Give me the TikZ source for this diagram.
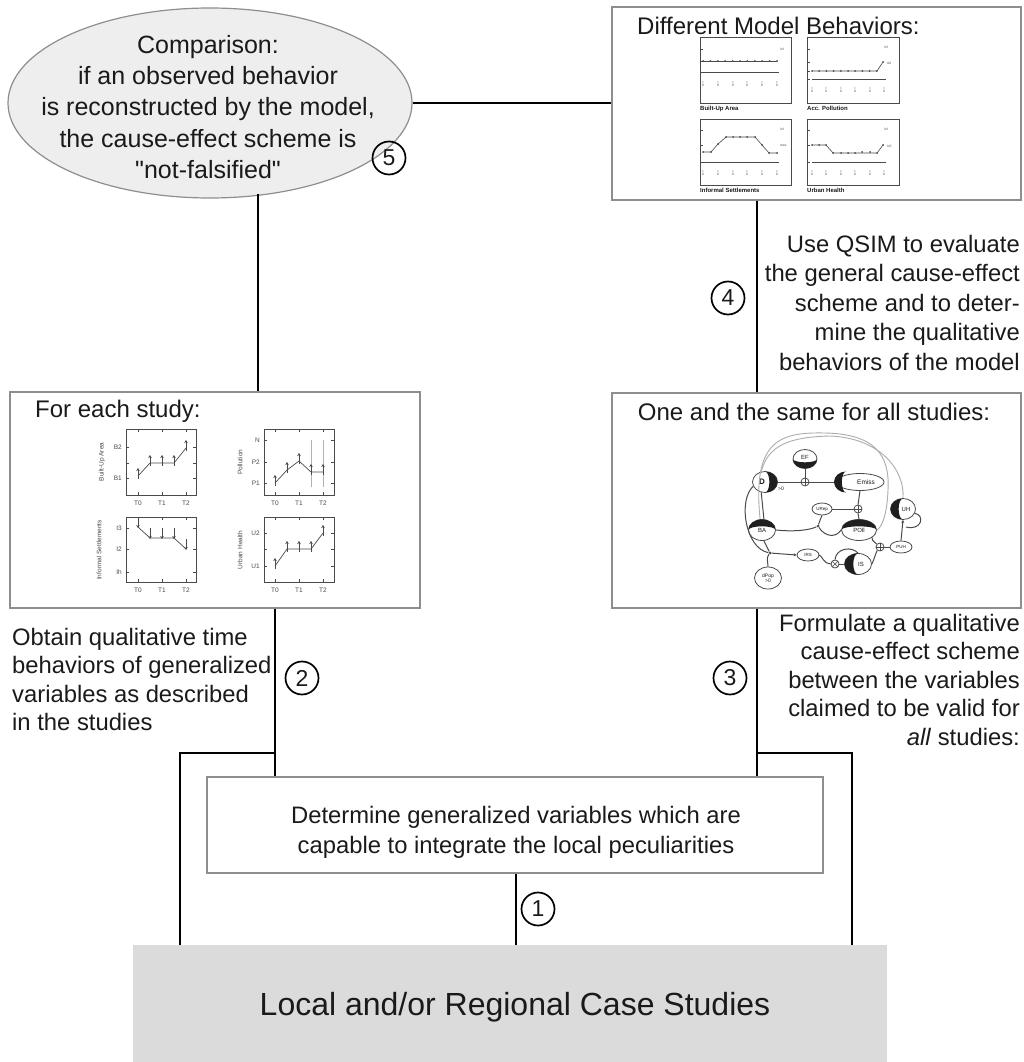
\documentclass[tikz,border=0pt]{standalone}
\usepackage{fontspec}
\setmainfont{Liberation Sans}
\newfontfamily\qfont{Liberation Sans}[Ligatures=TeXOff]
\usetikzlibrary{shapes.geometric,arrows.meta}
\definecolor{boxline}{HTML}{8E8E8E}
\definecolor{ellfill}{HTML}{EEEEEE}
\definecolor{casefill}{HTML}{DBDBDB}
\definecolor{inkgray}{HTML}{4A4A4A}
\definecolor{txtblack}{HTML}{1A1A1A}
\newcommand{\fsz}[2]{\fontsize{#1}{#2}\selectfont}
\newcommand{\cresbot}[3]{\fill[moonfill] (#1) ++(-#2,0) arc[start angle=180,end angle=360,x radius=#2pt,y radius=#3pt] arc[start angle=0,end angle=-180,x radius=#2pt,y radius=0.35*#3pt] -- cycle;}
\newcommand{\crestop}[3]{\fill[moonfill] (#1) ++(-#2,0) arc[start angle=180,end angle=0,x radius=#2pt,y radius=#3pt] arc[start angle=0,end angle=180,x radius=#2pt,y radius=0.35*#3pt] -- cycle;}
\newcommand{\cresright}[3]{\fill[moonfill] (#1) ++(0,-#3) arc[start angle=90,end angle=-90,x radius=#2pt,y radius=#3pt] arc[start angle=-90,end angle=90,x radius=0.35*#2pt,y radius=#3pt] -- cycle;}
\newcommand{\cresleft}[3]{\fill[moonfill] (#1) ++(0,-#3) arc[start angle=90,end angle=270,x radius=#2pt,y radius=#3pt] arc[start angle=270,end angle=90,x radius=0.35*#2pt,y radius=#3pt] -- cycle;}
\begin{document}
\begin{tikzpicture}[x=1pt,y=-1pt,text=txtblack,
  conn/.style={line width=2.3pt,black,line join=miter},
  panel/.style={draw=boxline,line width=1.4pt,fill=white,inner sep=0pt},
  stepnum/.style={circle,draw=black,line width=1.7pt,minimum size=33pt,inner sep=0pt,font=\fsz{23}{26}},
  plt/.style={draw=inkgray,line width=0.7pt},
  upmk/.style={draw=inkgray,line width=0.6pt,-{Stealth[length=3pt,width=3.5pt]}},
  tinylab/.style={font=\fsz{6.5}{7},text=inkgray,inner sep=0pt},
  qfr/.style={draw=inkgray,line width=1pt},
  qln/.style={draw=inkgray,line width=0.6pt},
  qtk/.style={font=\fsz{3.3}{3.6},text=inkgray,inner sep=0pt,align=center},
  qlab/.style={font=\bfseries\fsz{6}{6},inner sep=0pt,anchor=north west},
  cv/.style={ellipse,draw=inkgray,line width=0.8pt,fill=white,inner sep=0pt,font=\fsz{6}{6}},
  jn/.style={circle,draw=inkgray,line width=0.8pt,fill=white,minimum size=8pt,inner sep=0pt},
  cl/.style={draw=inkgray,line width=1pt},
  arcl/.style={draw=gray!65,line width=0.9pt},
  moonfill/.style={fill=black!88}]
\useasboundingbox (0,0) rectangle (1023,1062);

% ---------- main panels ----------
\node[ellipse,draw=boxline,line width=1.2pt,fill=ellfill,minimum width=404pt,minimum height=190pt,inner sep=0pt] (ell) at (210,103) {};
\node[font=\fsz{25}{31.3},align=center,anchor=north,inner sep=0pt] (elltxt) at (208,35)
  {Comparison:\\if an observed behavior\\is reconstructed by the model,\\the cause-effect scheme is\\{\qfont"}not-falsified{\qfont"}};

\node[panel,minimum width=409pt,minimum height=193pt] (tbox) at (816.5,103.5) {};
\node[anchor=west,inner sep=0pt,font=\fsz{24}{28}] (ttitle) at (637,26) {Different Model Behaviors:};

\node[panel,minimum width=410pt,minimum height=216pt] (lbox) at (215,500) {};
\node[anchor=west,inner sep=0pt,font=\fsz{24}{28}] (ltitle) at (35,411) {For each study:};

\node[panel,minimum width=409pt,minimum height=215pt] (rbox) at (816.5,500.5) {};
\node[inner sep=0pt,font=\fsz{24}{28}] (rtitle) at (814,412) {One and the same for all studies:};

\node[panel,minimum width=616pt,minimum height=96pt] (dbox) at (515,825) {};
\node[align=center,font=\fsz{23.8}{30},inner sep=0pt] (dtxt) at (516,832)
  {Determine generalized variables which are\\capable to integrate the local peculiarities};

\node[fill=casefill,minimum width=754pt,minimum height=117pt,inner sep=0pt] (gbox) at (510,1003.5) {};
\node[font=\fsz{32}{36},inner sep=0pt] (gtxt) at (515,1007) {Local and/or Regional Case Studies};

% ---------- side texts ----------
\node[anchor=north west,align=left,inner sep=0pt,font=\fsz{23.8}{28.5}] (txt2) at (12,628)
  {Obtain qualitative time\\behaviors of generalized\\variables as described\\in the studies};
\node[anchor=north east,align=right,inner sep=0pt,font=\fsz{23.8}{28.4}] (txt3) at (1020,614)
  {Formulate a qualitative\\cause-effect scheme\\between the variables\\claimed to be valid for\\\emph{all} studies:};
\node[anchor=north east,align=right,inner sep=0pt,font=\fsz{23.8}{29.4}] (txt4) at (1020,235)
  {Use QSIM to evaluate\\the general cause-effect\\scheme and to deter-\\mine the qualitative\\behaviors of the model};

% ---------- step numbers ----------
\node[stepnum] (s1) at (538,909) {1};
\node[stepnum] (s2) at (302,678) {2};
\node[stepnum] (s3) at (730,678) {3};
\node[stepnum] (s4) at (728,298) {4};
\node[stepnum] (s5) at (389,158) {5};

% ---------- connectors ----------
\coordinate (xa) at (258,0);
\coordinate (xl) at (275,0);
\coordinate (xr) at (757,0);
\coordinate (xo1) at (180,0);
\coordinate (xo2) at (852,0);
\coordinate (xm) at (516,0);
\coordinate (yb) at (0,753);
\draw[conn] (ell.east) -- (ell.east -| tbox.west);
\draw[conn] (ell.south -| xa) ++(0,-5) -- (lbox.north -| xa);
\draw[conn] (tbox.south -| xr) -- (rbox.north -| xr);
\draw[conn] (lbox.south -| xl) -- (dbox.north -| xl);
\draw[conn] (rbox.south -| xr) -- (dbox.north -| xr);
\draw[conn] (xl |- yb) -- (xo1 |- yb) -- (gbox.north -| xo1);
\draw[conn] (xr |- yb) -- (xo2 |- yb) -- (gbox.north -| xo2);
\draw[conn] (dbox.south -| xm) -- (gbox.north -| xm);

% ---------- study plots (left panel) ----------
% P1 Built-Up Area
\draw[plt] (126,429) rectangle (196,495);
\foreach \yy in {447,463,478} {\draw[plt] (126,\yy) -- (129,\yy); \draw[plt] (196,\yy) -- (193,\yy);}
\foreach \xx in {138,162,186} {\draw[plt] (\xx,495) -- (\xx,492); \draw[plt] (\xx,429) -- (\xx,432);}
\draw[plt] (138,476) -- (150,463) -- (174,463) -- (186,448);
\foreach \xx/\yy in {138/476,150/463,162/463,174/463,186/448} \draw[upmk] (\xx,\yy+3) -- (\xx,\yy-8);
\node[tinylab,anchor=east] at (122,447) {B2};
\node[tinylab,anchor=east] at (122,478) {B1};
\foreach \xx/\tt in {138/T0,162/T1,186/T2} \node[tinylab] at (\xx,503) {\tt};
\node[tinylab,rotate=90] at (102,462) {Built-Up Area};
% P2 Pollution
\draw[plt] (264,429) rectangle (334,495);
\foreach \yy in {440,462,483} {\draw[plt] (264,\yy) -- (267,\yy); \draw[plt] (334,\yy) -- (331,\yy);}
\foreach \xx in {275,299,323} {\draw[plt] (\xx,495) -- (\xx,492); \draw[plt] (\xx,429) -- (\xx,432);}
\draw[draw=gray!60,line width=0.6pt] (311,440) -- (311,487) (323,440) -- (323,487);
\draw[plt] (275,483) -- (287,470) -- (299,461) -- (311,472) -- (323,472);
\foreach \xx/\yy in {275/483,287/470,299/461,311/472,323/472} \draw[upmk] (\xx,\yy+3) -- (\xx,\yy-8);
\node[tinylab,anchor=east] at (260,440) {N};
\node[tinylab,anchor=east] at (260,462) {P2};
\node[tinylab,anchor=east] at (260,483) {P1};
\foreach \xx/\tt in {275/T0,299/T1,323/T2} \node[tinylab] at (\xx,503) {\tt};
\node[tinylab,rotate=90] at (240,462) {Pollution};
% P3 Informal Settlements
\draw[plt] (126,517) rectangle (196,582);
\foreach \yy in {528,549,572} {\draw[plt] (126,\yy) -- (129,\yy); \draw[plt] (196,\yy) -- (193,\yy);}
\foreach \xx in {138,162,186} {\draw[plt] (\xx,582) -- (\xx,579); \draw[plt] (\xx,517) -- (\xx,520);}
\draw[plt] (138,527) -- (150,538) -- (174,538) -- (186,549);
\foreach \xx/\yy in {138/527,150/538,162/538,174/538,186/549} \draw[upmk] (\xx,\yy-10) -- (\xx,\yy+1);
\node[tinylab,anchor=east] at (122,528) {I3};
\node[tinylab,anchor=east] at (122,549) {I2};
\node[tinylab,anchor=east] at (122,572) {Ih};
\foreach \xx/\tt in {138/T0,162/T1,186/T2} \node[tinylab] at (\xx,590) {\tt};
\node[tinylab,rotate=90] at (99,550) {Informal Settlements};
% P4 Urban Health
\draw[plt] (264,517) rectangle (334,582);
\foreach \yy in {533,549,566} {\draw[plt] (264,\yy) -- (267,\yy); \draw[plt] (334,\yy) -- (331,\yy);}
\foreach \xx in {275,299,323} {\draw[plt] (\xx,582) -- (\xx,579); \draw[plt] (\xx,517) -- (\xx,520);}
\draw[plt] (275,566) -- (287,549) -- (311,549) -- (323,533);
\foreach \xx/\yy in {275/566,287/549,299/549,311/549,323/533} \draw[upmk] (\xx,\yy+3) -- (\xx,\yy-8);
\node[tinylab,anchor=east] at (260,533) {U2};
\node[tinylab,anchor=east] at (260,566) {U1};
\foreach \xx/\tt in {275/T0,299/T1,323/T2} \node[tinylab] at (\xx,590) {\tt};
\node[tinylab,rotate=90] at (240,550) {Urban Health};

% ---------- model behaviour plots (top right panel) ----------
% Q1
\draw[qfr] (700,38) rectangle (791,104);
\foreach \yy in {49,61,72} \draw[qln] (700,\yy) -- (703,\yy);
\draw[qln] (703,61) -- (777,61);
\foreach \i in {0,...,10} \fill[inkgray] (703+7.4*\i,61) circle (1pt);
\draw[qln] (703,72) -- (779,72);
\foreach \xx in {703,718,733,747,762,777} \node[qtk] at (\xx,84) {t\\0};
\node[qtk,anchor=west] at (780,49) {inf};
\node[qlab] at (700,106) {Built-Up Area};
% Q2
\draw[qfr] (807,38) rectangle (899,104);
\foreach \yy in {49,62,71,79} \draw[qln] (807,\yy) -- (810,\yy);
\draw[qln] (812,71) -- (877,71) -- (883,62);
\foreach \i in {0,...,9} \fill[inkgray] (812+7.2*\i,71) circle (1pt);
\fill[inkgray] (883,62) circle (1pt);
\draw[qln] (812,79) -- (886,79);
\foreach \xx in {812,826,841,855,870,884} \node[qtk] at (\xx,90) {t\\0};
\node[qtk,anchor=west] at (884,47) {inf};
\node[qtk,anchor=west] at (887,63) {A0};
\node[qlab] at (807,106) {Acc. Pollution};
% Q3
\draw[qfr] (700,120) rectangle (791,185);
\foreach \yy in {130,145,162} \draw[qln] (700,\yy) -- (703,\yy);
\draw[qln] (703,152) -- (711,152) -- (718,144) -- (726,137) -- (755,137) -- (762,145) -- (769,153) -- (777,153);
\foreach \xx/\yy in {703/152,711/152,718/144,726/137,733/137,740/137,747/137,755/137,762/145,769/153,777/153} \fill[inkgray] (\xx,\yy) circle (1pt);
\draw[qln] (703,162) -- (779,162);
\foreach \xx in {703,718,733,747,762,777} \node[qtk] at (\xx,173) {t\\0};
\node[qtk,anchor=west] at (780,129) {inf};
\node[qtk,anchor=west] at (780,146) {max};
\node[qlab] at (700,188) {Informal Settlements};
% Q4
\draw[qfr] (807,120) rectangle (899,185);
\foreach \yy in {130,145,162} \draw[qln] (807,\yy) -- (810,\yy);
\draw[qln] (812,145) -- (826,145) -- (833,153) -- (877,153) -- (883,145);
\foreach \xx/\yy in {812/145,819/145,826/145,833/153,841/153,848/153,855/153,862/152,870/152,877/153,883/145} \fill[inkgray] (\xx,\yy) circle (1pt);
\draw[qln] (812,162) -- (886,162);
\foreach \xx in {812,826,841,855,870,884} \node[qtk] at (\xx,173) {t\\0};
\node[qtk,anchor=west] at (884,129) {inf};
\node[qtk,anchor=west] at (887,146) {U0};
\node[qlab] at (807,188) {Urban Health};

% ---------- cause-effect scheme (right panel) ----------
\node[cv,minimum width=24pt,minimum height=19pt] (EF) at (805,459) {\raisebox{3pt}{EF}};
\node[cv,minimum width=25pt,minimum height=21pt,font=\bfseries\fsz{8}{8}] (D) at (765,482) {\hspace*{-6pt}D};
\node[jn] (j1) at (805,482) {};
\node[cv,minimum width=48pt,minimum height=17pt,font=\fsz{6.5}{7}] (Em) at (860,482) {\hspace*{12pt}Emiss};
\node[cv,minimum width=20pt,minimum height=12pt,font=\fsz{4.5}{5}] (URep) at (822,509) {URep};
\node[jn] (j2) at (858,509) {};
\node[cv,minimum width=25pt,minimum height=21pt] (UH) at (903,509) {\hspace*{6pt}UH};
\node[cv,minimum width=27pt,minimum height=21pt] (BA) at (762,530) {\raisebox{-4pt}{BA}};
\node[cv,minimum width=35pt,minimum height=21pt] (POll) at (859,530) {\raisebox{-4pt}{POll}};
\node[circle,fill=inkgray,inner sep=0pt,minimum size=3pt] (j3) at (818,526) {};
\node[jn] (j4) at (880,547) {};
\node[cv,minimum width=22pt,minimum height=12pt,font=\fsz{4.5}{5}] (PUH) at (901,547) {PUH};
\node[circle,fill=inkgray,inner sep=0pt,minimum size=3pt] (j5) at (770,553) {};
\node[cv,minimum width=22pt,minimum height=12pt,font=\fsz{4.5}{5}] (IRS) at (808,555) {IRS};
\node[jn] (j6) at (835,564) {};
\node[cv,minimum width=27pt,minimum height=21pt] (IS) at (858,564) {\hspace*{6pt}IS};
\node[cv,minimum width=27pt,minimum height=22pt,align=center,font=\fsz{5}{5.5}] (dPop) at (768,578) {dPop\\>0};
\node[font=\fsz{5}{5},inner sep=0pt] (gt0) at (781,489) {>0};

\draw[arcl] (BA.100) .. controls (752,440) and (780,432) .. (825,433) .. controls (875,434) and (890,455) .. (888,490) .. controls (887,515) and (882,527) .. (POll.east);
\draw[arcl] (D.110) .. controls (768,445) and (790,437) .. (830,436) .. controls (880,438) and (905,470) .. (UH.north);
\draw[cl] (EF.south) -- (j1.north);
\draw[cl] (D.east) -- (j1.west);
\draw[cl] (j1.east) -- (Em.west);
\draw[cl] (Em.south) -- (j2.north);
\draw[cl] (URep.east) -- (j2.west);
\draw[cl] (j2.south) -- (POll.north);
\draw[cl] (BA.east) .. controls (795,532) and (810,530) .. (j3);
\draw[cl] (j3) .. controls (820,520) and (821,518) .. (URep.south);
\draw[cl] (j3) .. controls (825,537) and (836,538) .. (POll.west);
\draw[cl] (D.-110) -- (BA.80);
\draw[cl] (D.200) .. controls (738,500) and (745,548) .. (j5);
\draw[cl] (BA.-80) -- (j5);
\draw[cl] (dPop.north) .. controls (768,562) and (766,558) .. (j5);
\draw[cl,-{Stealth[length=3pt,width=3pt]}] (j5) -- (IRS.west);
\draw[cl] (IRS.east) .. controls (822,556) and (824,564) .. (j6.west);
\draw[cl] (j6.east) -- (IS.west);
\draw[cl] (j6.north) .. controls (836,548) and (852,546) .. (IS.north);
\draw[cl] (IS.east) .. controls (874,560) and (876,552) .. (j4);
\draw[cl] (POll.-30) .. controls (872,540) .. (j4);
\draw[cl] (j4.east) -- (PUH.west);
\draw[cl,-{Stealth[length=3pt,width=3pt]}] (PUH.north) -- (UH.south);
\draw[cl] (UH.-20) .. controls (925,515) and (922,531) .. (906,527);

\cresbot{EF}{12}{9.5}
\cresright{D}{12.5}{10.5}
\cresleft{846,482}{12}{10.5}
\cresleft{UH}{12.5}{10.5}
\crestop{BA}{13.5}{10.5}
\crestop{POll}{17.5}{10.5}
\cresleft{IS}{13.5}{10.5}
\foreach \jj in {j1,j2,j4} \draw[cl,line width=0.5pt] (\jj.north) -- (\jj.south) (\jj.west) -- (\jj.east);
\draw[cl,line width=0.5pt] (j6.45) -- (j6.225) (j6.135) -- (j6.-45);
\end{tikzpicture}
\end{document}
